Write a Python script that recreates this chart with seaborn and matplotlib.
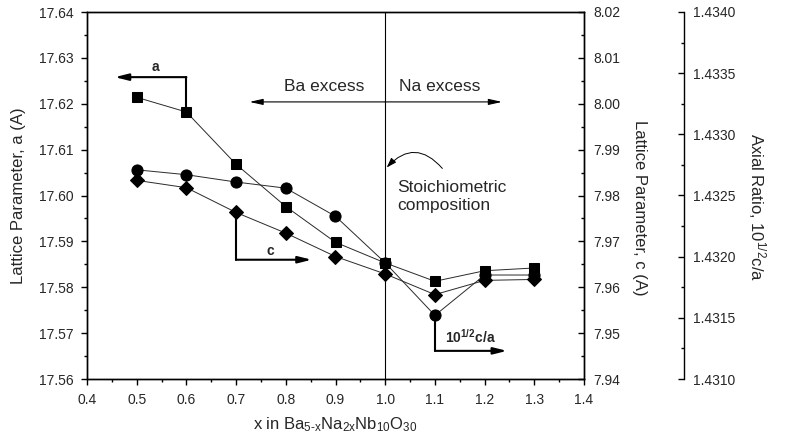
import matplotlib
matplotlib.use("Agg")
import matplotlib.pyplot as plt
from matplotlib.ticker import MultipleLocator, FormatStrFormatter
import pandas as pd
import seaborn as sns

# Composition x in Ba(5-x)Na(2x)Nb10O30
x = [0.5, 0.6, 0.7, 0.8, 0.9, 1.0, 1.1, 1.2, 1.3]
# Lattice parameter a (A), left axis
a_param = [17.6214, 17.6182, 17.6068, 17.5976, 17.5898, 17.5853, 17.5813, 17.5836, 17.5842]
# Lattice parameter c (A), first right axis
c_param = [7.9833, 7.9817, 7.9763, 7.9718, 7.9667, 7.9629, 7.9584, 7.9615, 7.9617]
# Axial ratio 10^(1/2) c/a, outer right axis
axial_ratio = [1.43271, 1.43267, 1.43261, 1.43256, 1.43233, 1.43195, 1.43152, 1.43185, 1.43185]

df = pd.DataFrame({"x": x, "a": a_param, "c": c_param, "ratio": axial_ratio})

sns.set_style("ticks")
plt.rcParams["font.family"] = ["Liberation Sans", "DejaVu Sans"]
plt.rcParams["mathtext.fontset"] = "custom"
plt.rcParams["mathtext.rm"] = "Liberation Sans"
plt.rcParams["mathtext.it"] = "Liberation Sans:italic"
plt.rcParams["mathtext.bf"] = "Liberation Sans:bold"
plt.rcParams["axes.linewidth"] = 1.0
plt.rcParams["axes.edgecolor"] = "black"

fig = plt.figure(figsize=(7.88, 4.48), dpi=100)
ax = fig.add_axes([87 / 788, 1 - 379 / 448, 497 / 788, 367 / 448])
ax_c = ax.twinx()
ax_r = ax.twinx()
ax_r.spines["right"].set_position(("axes", 1.2012))
for side in ["top", "bottom", "left"]:
    ax_r.spines[side].set_visible(False)
ax_r.patch.set_visible(False)

line_kw = dict(color="#2a2a2a", linewidth=0.7, markerfacecolor="black",
               markeredgecolor="black", legend=False)
sns.lineplot(data=df, x="x", y="a", ax=ax, marker="s", markersize=7.5, **line_kw)
sns.lineplot(data=df, x="x", y="c", ax=ax_c, marker="D", markersize=7, **line_kw)
sns.lineplot(data=df, x="x", y="ratio", ax=ax_r, marker="o", markersize=8, **line_kw)

# Axis ranges and ticks
ax.set_xlim(0.4, 1.4)
ax.set_ylim(17.56, 17.64)
ax_c.set_ylim(7.94, 8.02)
ax_r.set_ylim(1.4310, 1.4340)

ax.xaxis.set_major_locator(MultipleLocator(0.1))
ax.xaxis.set_minor_locator(MultipleLocator(0.05))
ax.xaxis.set_major_formatter(FormatStrFormatter("%.1f"))
ax.yaxis.set_major_locator(MultipleLocator(0.01))
ax.yaxis.set_minor_locator(MultipleLocator(0.005))
ax.yaxis.set_major_formatter(FormatStrFormatter("%.2f"))
ax_c.yaxis.set_major_locator(MultipleLocator(0.01))
ax_c.yaxis.set_minor_locator(MultipleLocator(0.005))
ax_c.yaxis.set_major_formatter(FormatStrFormatter("%.2f"))
ax_r.yaxis.set_major_locator(MultipleLocator(0.0005))
ax_r.yaxis.set_minor_locator(MultipleLocator(0.00025))
ax_r.yaxis.set_major_formatter(FormatStrFormatter("%.4f"))

ax.tick_params(axis="x", which="both", direction="out", top=False, labelsize=10, pad=6)
ax.tick_params(axis="y", which="both", direction="out", right=False, labelsize=10, pad=5.5)
ax_c.tick_params(axis="y", which="both", direction="in", labelsize=10, pad=6.5)
ax_r.tick_params(axis="y", which="both", direction="in", labelsize=10, pad=6.3)
for axis in (ax, ax_c, ax_r):
    axis.tick_params(which="major", length=4, width=1, color="black")
    axis.tick_params(which="minor", length=2.5, width=1, color="black")

# Axis titles
ax.set_xlabel(r"x in Ba$_{\mathrm{5\text{-}x}}$Na$_{\mathrm{2x}}$Nb$_{\mathrm{10}}$O$_{\mathrm{30}}$",
              fontsize=12, labelpad=6)
ax.set_ylabel("Lattice Parameter, a (A)", fontsize=12, va="center", ha="center")
ax.yaxis.set_label_coords(-0.137, 0.5)
ax_c.set_ylabel("Lattice Parameter, c (A)", fontsize=12, rotation=270, va="center", ha="center")
ax_c.yaxis.set_label_coords(1.1107, 0.467)
ax_r.set_ylabel(r"Axial Ratio, 10$^{1/2}$c/a", fontsize=12, rotation=270, va="center", ha="center")
ax_r.yaxis.set_label_coords(1.348, 0.467)

# Stoichiometric boundary
ax.axvline(1.0, color="black", linewidth=0.8, zorder=1)

thin_head = "-|>,head_length=0.8,head_width=0.18"
ax.annotate("", xy=(0.727, 17.6204), xytext=(1.0, 17.6204),
            arrowprops=dict(arrowstyle=thin_head, color="black", lw=0.8, shrinkA=0, shrinkB=0))
ax.annotate("", xy=(1.235, 17.6204), xytext=(1.0, 17.6204),
            arrowprops=dict(arrowstyle=thin_head, color="black", lw=0.8, shrinkA=0, shrinkB=0))
ax.text(0.878, 17.6238, "Ba excess", fontsize=12.5, ha="center", va="center")
ax.text(1.109, 17.6238, "Na excess", fontsize=12.5, ha="center", va="center")

ax.text(1.024, 17.5998, "Stoichiometric\ncomposition", fontsize=12.5, ha="left", va="center")
ax.annotate("", xy=(1.003, 17.6061), xytext=(1.115, 17.6059),
            arrowprops=dict(arrowstyle="-|>,head_length=0.6,head_width=0.2", color="black",
                            lw=0.7, shrinkA=0, shrinkB=0, connectionstyle="arc3,rad=0.55"))

# Series pointers
bold_head = "-|>,head_length=0.8,head_width=0.2"

a_turn = 17.6258
ax.plot([x[1], x[1]], [a_param[1], a_turn], color="black", lw=1.5, zorder=2)
ax.annotate("", xy=(0.456, a_turn), xytext=(x[1], a_turn),
            arrowprops=dict(arrowstyle=bold_head, color="black", lw=1.5, shrinkA=0, shrinkB=0))
ax.text(0.537, 17.628, "a", fontsize=10, fontweight="bold", ha="center", va="center")

c_turn = 7.9660
ax_c.plot([x[2], x[2]], [c_param[2], c_turn], color="black", lw=1.5, zorder=1)
ax_c.annotate("", xy=(0.852, c_turn), xytext=(x[2], c_turn),
              arrowprops=dict(arrowstyle=bold_head, color="black", lw=1.5, shrinkA=0, shrinkB=0))
ax_c.text(0.768, 7.968, "c", fontsize=10, fontweight="bold", ha="center", va="center")

r_turn = 1.43123
ax_r.plot([x[6], x[6]], [axial_ratio[6], r_turn], color="black", lw=1.5, zorder=1)
ax_r.annotate("", xy=(1.245, r_turn), xytext=(x[6], r_turn),
              arrowprops=dict(arrowstyle=bold_head, color="black", lw=1.5, shrinkA=0, shrinkB=0))
ax_r.text(1.171, 1.431343, r"$\mathbf{10^{1/2}c/a}$", fontsize=10, ha="center", va="center")

fig.savefig("out.png", dpi=100)
